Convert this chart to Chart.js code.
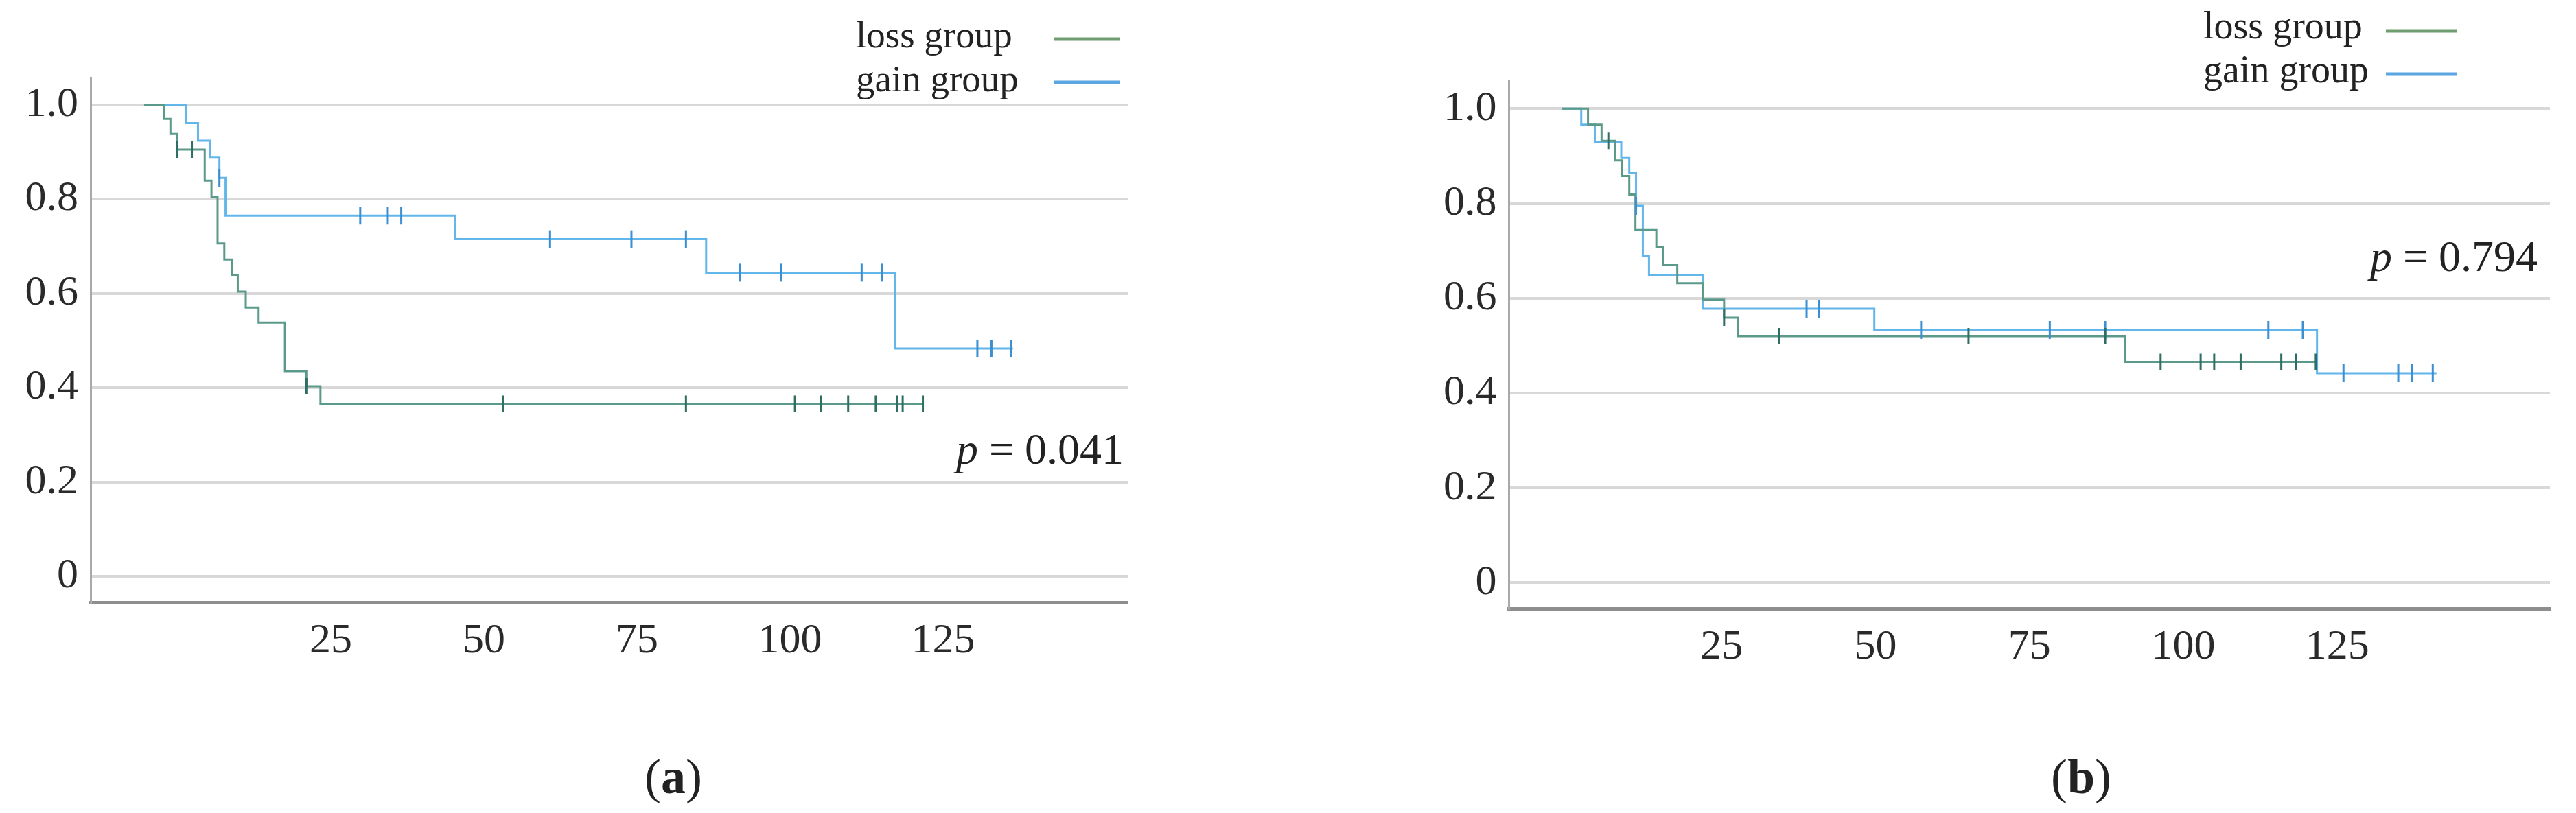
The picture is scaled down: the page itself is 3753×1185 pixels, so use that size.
<!DOCTYPE html>
<html><head><meta charset="utf-8">
<script src="https://cdn.jsdelivr.net/npm/chart.js@4.4.1/dist/chart.umd.min.js"></script>
<style>
html,body{margin:0;padding:0;background:#fff;}
body{width:3753px;height:1185px;position:relative;overflow:hidden;}
canvas{position:absolute;top:0;}
</style></head><body>
<canvas id="chartA" width="1700" height="1185" style="left:0;width:1700px;height:1185px"></canvas>
<canvas id="chartB" width="1687" height="1185" style="left:2066px;width:1687px;height:1185px"></canvas>
<script>
// ---------- data ----------
const seriesNames = ['loss group', 'gain group'];
const xTickValues = [25, 50, 75, 100, 125];
const yTickValues = [0, 0.2, 0.4, 0.6, 0.8, 1.0];
const panelLabels = ['a', 'b'];
const pValues = ['0.041', '0.794'];

// panel (a)
const aLossTime = [-5.5, -2.3, -1.2, -0.15, 4.4, 5.5, 6.5, 7.6, 8.9, 9.8, 11.1, 13.2, 17.5, 21.0, 23.3, 121.7];
const aLossSurv = [1.0, 0.970, 0.938, 0.905, 0.839, 0.805, 0.706, 0.672, 0.638, 0.604, 0.570, 0.538, 0.435, 0.403, 0.366, 0.366];
const aLossCensor = [-0.15, 2.3, 21.0, 53.1, 83.0, 100.8, 105.0, 109.5, 114.0, 117.5, 118.4, 121.7];
const aGainTime = [-5.5, 1.4, 3.3, 5.3, 6.8, 7.8, 45.3, 86.3, 117.2, 136.4];
const aGainSurv = [1.0, 0.961, 0.924, 0.888, 0.845, 0.765, 0.715, 0.644, 0.483, 0.483];
const aGainCensor = [6.8, 29.8, 34.3, 36.5, 60.8, 74.1, 83.0, 91.8, 98.5, 111.7, 115.0, 130.6, 132.9, 136.1];

// panel (b)
const bLossTime = [-1.0, 3.3, 5.5, 7.7, 8.8, 10.0, 11.0, 14.4, 15.5, 17.8, 22.0, 25.4, 27.6, 90.5, 121.5];
const bLossSurv = [1.0, 0.966, 0.932, 0.891, 0.858, 0.819, 0.744, 0.708, 0.670, 0.632, 0.597, 0.559, 0.520, 0.466, 0.466];
const bLossCensor = [6.6, 25.4, 34.3, 65.1, 87.3, 96.3, 102.8, 105.0, 109.3, 115.9, 118.3, 121.5];
const bGainTime = [-1.0, 2.2, 4.4, 8.7, 10.0, 11.1, 12.2, 13.2, 22.0, 49.8, 121.7, 141.1];
const bGainSurv = [1.0, 0.966, 0.930, 0.896, 0.865, 0.795, 0.689, 0.648, 0.578, 0.533, 0.442, 0.442];
const bGainCensor = [11.1, 38.8, 40.8, 57.4, 78.3, 87.3, 113.8, 119.4, 126.0, 134.9, 137.1, 140.5];

// ---------- helpers ----------
function toPoints(times, survs) { return times.map((t, i) => ({x: t, y: survs[i]})); }
function survAt(times, survs, t) {
  let s = survs[0];
  for (let i = 0; i < times.length; i++) { if (times[i] <= t + 1e-9) s = survs[i]; }
  return s;
}
function censorPoints(cens, times, survs) { return cens.map(t => ({x: t, y: survAt(times, survs, t)})); }

const COLORS = {
  lossLine: '#5b9a8a', lossMark: '#2f6e62', lossLegend: '#6f9d70',
  gainLine: '#62b6ea', gainMark: '#3b8fd2', gainLegend: '#5aa5e2'
};

const kmTextPlugin = {
  id: 'kmText',
  afterDraw(chart, args, o) {
    const ctx = chart.ctx;
    ctx.save();
    ctx.fillStyle = '#222';
    ctx.textBaseline = 'alphabetic';
    // legend
    ctx.font = o.legendFont + 'px "Liberation Serif"';
    ctx.textAlign = 'left';
    o.legend.forEach((e, i) => {
      ctx.fillStyle = '#222';
      ctx.fillText(seriesNames[i], o.legendTextX, e.baseline);
      ctx.strokeStyle = i === 0 ? COLORS.lossLegend : COLORS.gainLegend;
      ctx.lineWidth = 5;
      ctx.beginPath();
      ctx.moveTo(o.legendLineX1, e.lineY);
      ctx.lineTo(o.legendLineX2, e.lineY);
      ctx.stroke();
    });
    // p-value
    ctx.fillStyle = '#222';
    ctx.font = o.pFont + 'px "Liberation Serif"';
    const rest = ' = ' + o.pText;
    const wRest = ctx.measureText(rest).width;
    ctx.font = 'italic ' + o.pFont + 'px "Liberation Serif"';
    const wP = ctx.measureText('p').width;
    const x0 = o.pRight - wRest - wP;
    ctx.fillText('p', x0, o.pBaseline);
    ctx.font = o.pFont + 'px "Liberation Serif"';
    ctx.fillText(rest, x0 + wP, o.pBaseline);
    // caption (a)/(b)
    ctx.font = o.capFont + 'px "Liberation Serif"';
    const wOpen = ctx.measureText('(').width;
    const wClose = ctx.measureText(')').width;
    ctx.font = 'bold ' + o.capFont + 'px "Liberation Serif"';
    const wL = ctx.measureText(o.capText).width;
    let cx = o.capCenter - (wOpen + wL + wClose) / 2;
    ctx.font = o.capFont + 'px "Liberation Serif"';
    ctx.fillText('(', cx, o.capBaseline); cx += wOpen;
    ctx.font = 'bold ' + o.capFont + 'px "Liberation Serif"';
    ctx.fillText(o.capText, cx, o.capBaseline); cx += wL;
    ctx.font = o.capFont + 'px "Liberation Serif"';
    ctx.fillText(')', cx, o.capBaseline);
    ctx.restore();
  }
};

function buildChart(id, d, g, t) {
  return new Chart(document.getElementById(id), {
    type: 'line',
    data: {
      datasets: [
        {label: seriesNames[0] + ' (censored)', data: censorPoints(d.lossCensor, d.lossTime, d.lossSurv),
         showLine: false, pointStyle: 'line', rotation: 90, pointRadius: 12, pointBorderWidth: 3,
         borderColor: COLORS.lossMark, pointBorderColor: COLORS.lossMark, order: 0},
        {label: seriesNames[1] + ' (censored)', data: censorPoints(d.gainCensor, d.gainTime, d.gainSurv),
         showLine: false, pointStyle: 'line', rotation: 90, pointRadius: 13, pointBorderWidth: 3,
         borderColor: COLORS.gainMark, pointBorderColor: COLORS.gainMark, order: 0},
        {label: seriesNames[0], data: toPoints(d.lossTime, d.lossSurv), stepped: 'before',
         borderColor: COLORS.lossLine, borderWidth: 3, pointRadius: 0, fill: false, order: 1},
        {label: seriesNames[1], data: toPoints(d.gainTime, d.gainSurv), stepped: 'before',
         borderColor: COLORS.gainLine, borderWidth: 3, pointRadius: 0, fill: false, order: 2}
      ]
    },
    options: {
      responsive: false, animation: false, devicePixelRatio: 1,
      layout: {padding: {left: 0, top: g.top, right: g.right, bottom: 0}},
      plugins: {legend: {display: false}, tooltip: {enabled: false}, kmText: t},
      scales: {
        x: {
          type: 'linear', min: g.xMin, max: g.xMax,
          afterBuildTicks: s => { s.ticks = xTickValues.map(v => ({value: v})); },
          afterFit: s => { s.height = g.xAxisH; },
          grid: {display: false, drawTicks: false},
          border: {display: true, color: '#8e8e8e', width: 5},
          ticks: {font: {family: 'Liberation Serif', size: 62}, color: '#2a2a2a', padding: 20,
                  maxRotation: 0, autoSkip: false}
        },
        y: {
          type: 'linear', min: g.yMin, max: g.yMax,
          afterBuildTicks: s => { s.ticks = yTickValues.map(v => ({value: v})); },
          afterFit: s => { s.width = g.yAxisW; },
          grid: {color: '#d8d8d8', lineWidth: 4, drawTicks: false},
          border: {display: true, color: '#a9a9a9', width: 3},
          ticks: {font: {family: 'Liberation Serif', size: 62}, color: '#2a2a2a', padding: 18,
                  callback: v => (v === 0 ? '0' : Number(v).toFixed(1))}
        }
      }
    },
    plugins: [kmTextPlugin]
  });
}

buildChart('chartA',
  {lossTime: aLossTime, lossSurv: aLossSurv, lossCensor: aLossCensor,
   gainTime: aGainTime, gainSurv: aGainSurv, gainCensor: aGainCensor},
  {top: 113, right: 57, xAxisH: 307, yAxisW: 132, xMin: -14.24, xMax: 155.16, yMin: -0.0553, yMax: 1.0578},
  {legendFont: 55, legendTextX: 1247, legendLineX1: 1535, legendLineX2: 1632,
   legend: [{baseline: 69, lineY: 57}, {baseline: 133, lineY: 120}],
   pFont: 64, pText: pValues[0], pRight: 1637, pBaseline: 676,
   capFont: 72, capText: panelLabels[0], capCenter: 981, capBaseline: 1156});

buildChart('chartB',
  {lossTime: bLossTime, lossSurv: bLossSurv, lossCensor: bLossCensor,
   gainTime: bGainTime, gainSurv: bGainSurv, gainCensor: bGainCensor},
  {top: 117, right: 38, xAxisH: 298, yAxisW: 132.5, xMin: -9.53, xMax: 159.53, yMin: -0.0543, yMax: 1.0598},
  {legendFont: 56, legendTextX: 1144, legendLineX1: 1410, legendLineX2: 1513,
   legend: [{baseline: 56, lineY: 45}, {baseline: 120, lineY: 108}],
   pFont: 64, pText: pValues[1], pRight: 1631, pBaseline: 395,
   capFont: 72, capText: panelLabels[1], capCenter: 966, capBaseline: 1156});
</script>
</body></html>
